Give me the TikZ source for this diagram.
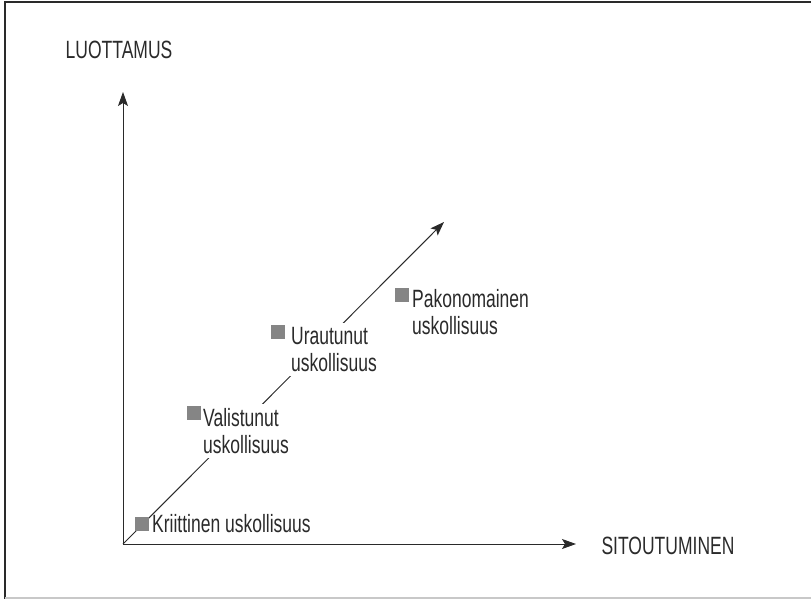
\documentclass[tikz,border=0pt]{standalone}
\usepackage{fontspec}
\setmainfont[FakeStretch=0.7]{Liberation Sans}
\usetikzlibrary{arrows.meta}
\definecolor{ink}{HTML}{2A2A2A}
\definecolor{boxgray}{HTML}{858585}
\definecolor{edgegray}{HTML}{C8C8C8}
\tikzset{
  axis/.style={draw=ink, line width=1pt, -{Stealth[length=14pt,width=10pt,inset=3pt]}},
  marker/.style={fill=boxgray, draw=none, minimum size=14pt, inner sep=0pt, anchor=north west},
  label/.style={font=\fontsize{25}{27.5}\selectfont, text=ink, align=left, inner sep=0pt, anchor=north west},
  masked/.style={label, fill=white, inner xsep=3pt, inner ysep=4pt},
  axislabel/.style={font=\fontsize{25}{27.5}\selectfont, text=ink, inner sep=0pt}
}
\begin{document}
\begin{tikzpicture}[x=1pt, y=-1pt]
  \useasboundingbox (0,0) rectangle (811,599);
  % outer frame
  \draw[ink, line width=1.8pt] (5,599) -- (5,2) -- (811,2);
  \draw[edgegray, line width=1.5pt] (5,598) -- (811,598);

  % axes and the diagonal
  \coordinate (O) at (123,544);
  \coordinate (ytip) at (123,92);
  \coordinate (xtip) at (576,544);
  \coordinate (dtip) at (444,222);
  \draw[axis] (O) -- (ytip);
  \draw[axis] (O) -- (xtip);
  \draw[axis] (O) -- (dtip);

  % axis titles
  \node[axislabel] (ylab) at (119,49.5) {LUOTTAMUS};
  \node[axislabel] (xlab) at (668,545.5) {SITOUTUMINEN};

  % stages along the diagonal
  \node[marker] (sqK) at (135,517) {};
  \node[label] (kri) at (152,514) {Kriittinen uskollisuus};

  \node[masked] (val) at (200,404) {Valistunut\\uskollisuus};
  \node[marker] (sqV) at (187,406) {};

  \node[masked] (ura) at (288,323) {Urautunut\\uskollisuus};
  \node[marker] (sqU) at (271,325) {};

  \node[label] (pak) at (412,289) {Pakonomainen\\uskollisuus};
  \node[marker] (sqP) at (395,288) {};
\end{tikzpicture}
\end{document}
